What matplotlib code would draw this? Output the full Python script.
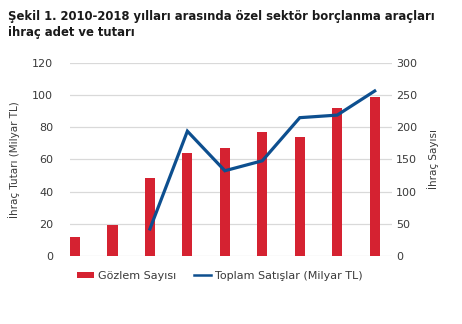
import matplotlib
matplotlib.use("Agg")
import matplotlib.pyplot as plt
from matplotlib.patches import Patch
from matplotlib.lines import Line2D

# Yearly private-sector debt instrument issuance, 2010-2018
years = [2010, 2011, 2012, 2013, 2014, 2015, 2016, 2017, 2018]
issue_count = [29, 48, 122, 160, 168, 193, 185, 230, 247]          # Gözlem Sayısı
total_sales_years = [2012, 2013, 2014, 2015, 2016, 2017, 2018]
total_sales = [16.8, 77.6, 53.0, 59.2, 86.0, 87.6, 102.6]          # Toplam Satışlar (Milyar TL)

left_ticks = [0, 20, 40, 60, 80, 100, 120]
right_ticks = [0, 50, 100, 150, 200, 250, 300]

RED = "#d52231"
BLUE = "#0d4f8f"
TXT = "#3a3a3a"
GRID = "#d9d9d9"

plt.rcParams["font.family"] = ["DejaVu Sans"]

fig = plt.figure(figsize=(4.62, 3.24), dpi=100)
ax = fig.add_axes([0.1515, 0.2099, 0.6963, 0.5957])
ax2 = ax.twinx()

x = list(range(len(years)))
ax.bar(x, issue_count, width=0.27, color=RED, zorder=2)
ax.set_ylim(0, 300)
ax.set_yticks(right_ticks)
ax.yaxis.tick_right()
ax.yaxis.set_label_position("right")
ax.set_ylabel("İhraç Sayısı", color=TXT, fontsize=7.5, labelpad=7)
ax.grid(axis="y", color=GRID, linewidth=0.9, zorder=0)
ax.set_axisbelow(True)

xs = [years.index(y) for y in total_sales_years]
ax2.plot(xs, total_sales, color=BLUE, linewidth=2.3, solid_joinstyle="miter", zorder=3)
ax2.set_ylim(0, 120)
ax2.set_yticks(left_ticks)
ax2.yaxis.tick_left()
ax2.yaxis.set_label_position("left")
ax2.set_ylabel("İhraç Tutarı (Milyar TL)", color=TXT, fontsize=7.5, labelpad=9)

ax.set_xlim(-0.133, 8.453)
ax.set_xticks([])
for a in (ax, ax2):
    for s in a.spines.values():
        s.set_visible(False)
    a.tick_params(axis="y", length=0, labelsize=8, labelcolor=TXT)
    a.tick_params(axis="x", length=0)
ax.tick_params(axis="y", pad=3)
ax2.tick_params(axis="y", pad=12)

fig.text(0.017, 0.968, "Şekil 1. 2010-2018 yılları arasında özel sektör borçlanma araçları\nihraç adet ve tutarı",
         fontsize=8.4, fontweight="bold", color="#1a1a1a", va="top", ha="left", linespacing=1.3)

handles = [Patch(facecolor=RED, edgecolor="none"),
           Line2D([0], [0], color=BLUE, linewidth=1.8)]
fig.legend(handles, ["Gözlem Sayısı", "Toplam Satışlar (Milyar TL)"],
           loc="center", bbox_to_anchor=(0.475, 0.148), ncol=2, frameon=False,
           fontsize=8, labelcolor=TXT, handlelength=1.6, handleheight=0.55,
           handletextpad=0.3, columnspacing=1.6)

fig.savefig("out.png", dpi=100)
